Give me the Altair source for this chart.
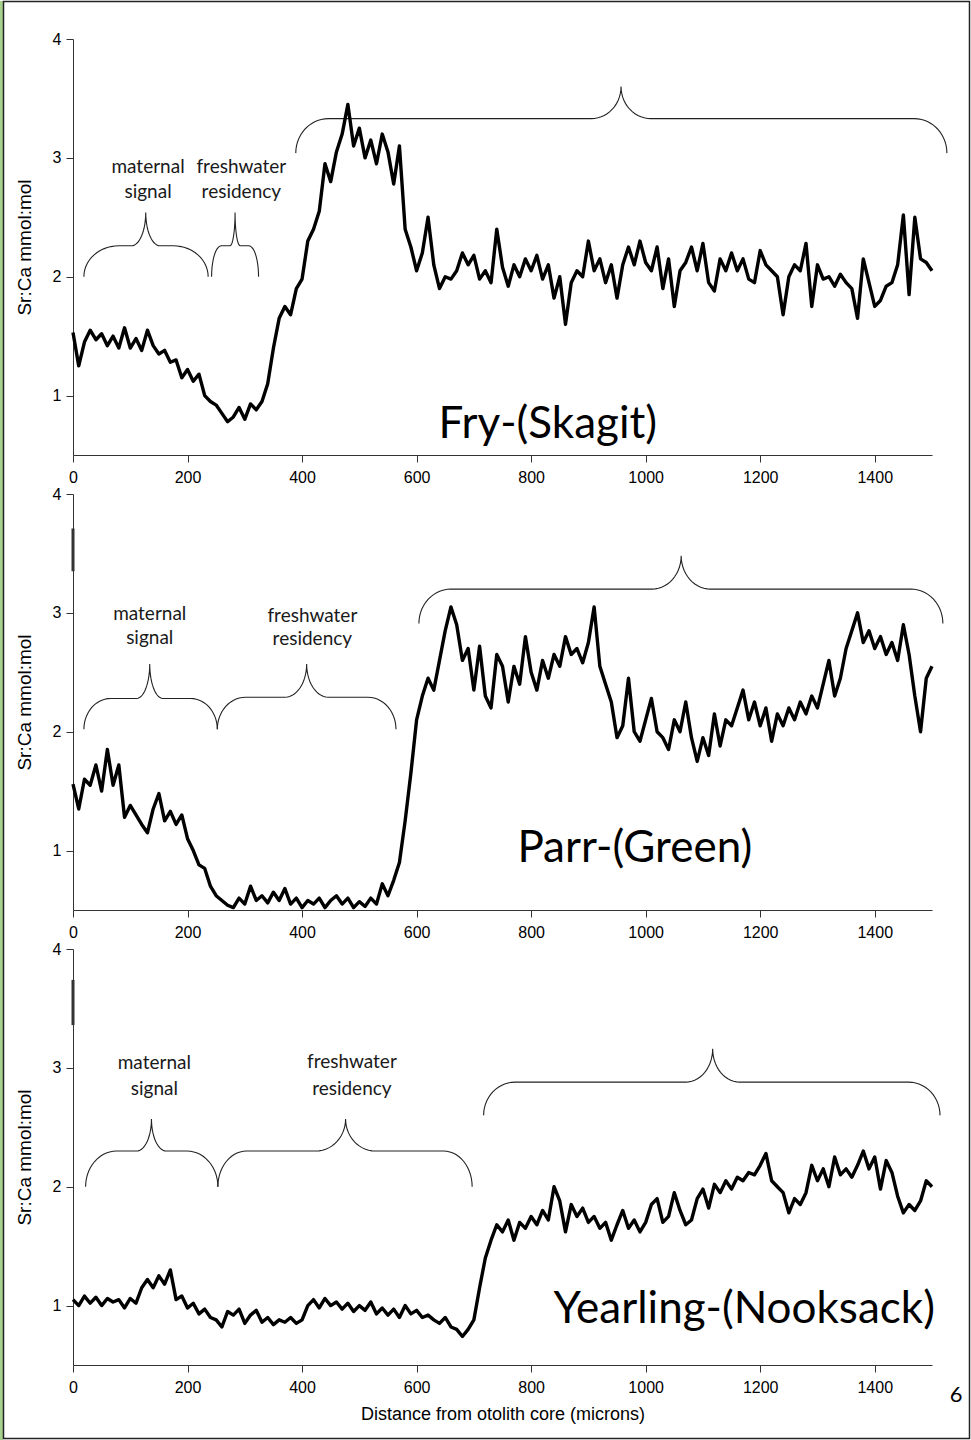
import math
import altair as alt
import pandas as pd

# ---------------- data ----------------
distance = list(range(0, 1501, 10))

fry_skagit = [
    1.53, 1.25, 1.45, 1.55, 1.47, 1.52, 1.42, 1.50, 1.40, 1.57,
    1.40, 1.48, 1.38, 1.55, 1.42, 1.35, 1.38, 1.28, 1.30, 1.15,
    1.22, 1.12, 1.18, 1.00, 0.95, 0.92, 0.85, 0.78, 0.82, 0.90,
    0.80, 0.93, 0.88, 0.95, 1.10, 1.40, 1.65, 1.75, 1.68, 1.90,
    1.98, 2.30, 2.40, 2.55, 2.95, 2.80, 3.05, 3.20, 3.45, 3.10,
    3.25, 3.00, 3.15, 2.95, 3.20, 3.05, 2.78, 3.10, 2.40, 2.25,
    2.05, 2.20, 2.50, 2.10, 1.90, 2.00, 1.98, 2.05, 2.20, 2.10,
    2.18, 1.98, 2.05, 1.95, 2.40, 2.08, 1.92, 2.10, 2.00, 2.15,
    2.05, 2.18, 1.98, 2.10, 1.82, 2.00, 1.60, 1.95, 2.05, 2.00,
    2.30, 2.05, 2.15, 1.95, 2.10, 1.82, 2.10, 2.25, 2.10, 2.30,
    2.12, 2.05, 2.25, 1.90, 2.15, 1.75, 2.05, 2.12, 2.25, 2.05,
    2.28, 1.95, 1.88, 2.15, 2.05, 2.20, 2.05, 2.15, 1.98, 1.95,
    2.22, 2.10, 2.05, 2.00, 1.68, 2.00, 2.10, 2.05, 2.28, 1.75,
    2.10, 1.98, 2.00, 1.92, 2.02, 1.95, 1.90, 1.65, 2.15, 1.95,
    1.75, 1.80, 1.92, 1.95, 2.10, 2.52, 1.85, 2.50, 2.15, 2.12,
    2.05,
]

parr_green = [
    1.56, 1.35, 1.60, 1.55, 1.72, 1.50, 1.85, 1.55, 1.72, 1.28,
    1.38, 1.30, 1.22, 1.15, 1.35, 1.48, 1.25, 1.33, 1.22, 1.30,
    1.10, 1.00, 0.88, 0.85, 0.70, 0.62, 0.58, 0.54, 0.52, 0.60,
    0.55, 0.70, 0.58, 0.62, 0.56, 0.65, 0.58, 0.68, 0.55, 0.60,
    0.52, 0.58, 0.55, 0.60, 0.52, 0.58, 0.62, 0.55, 0.60, 0.52,
    0.57, 0.53, 0.60, 0.55, 0.72, 0.62, 0.75, 0.90, 1.25, 1.65,
    2.10, 2.30, 2.45, 2.35, 2.60, 2.85, 3.05, 2.90, 2.60, 2.70,
    2.35, 2.72, 2.30, 2.20, 2.65, 2.55, 2.25, 2.55, 2.40, 2.80,
    2.50, 2.35, 2.60, 2.45, 2.65, 2.55, 2.80, 2.65, 2.70, 2.58,
    2.75, 3.05, 2.55, 2.40, 2.25, 1.95, 2.05, 2.45, 2.00, 1.92,
    2.10, 2.28, 2.00, 1.95, 1.85, 2.10, 2.00, 2.25, 1.95, 1.75,
    1.95, 1.80, 2.15, 1.88, 2.10, 2.05, 2.20, 2.35, 2.10, 2.25,
    2.05, 2.20, 1.92, 2.15, 2.05, 2.20, 2.10, 2.25, 2.15, 2.30,
    2.20, 2.40, 2.60, 2.30, 2.45, 2.70, 2.85, 3.00, 2.75, 2.85,
    2.70, 2.80, 2.65, 2.75, 2.60, 2.90, 2.65, 2.30, 2.00, 2.45,
    2.55,
]

yearling_nooksack = [
    1.05, 1.00, 1.08, 1.02, 1.07, 1.00, 1.06, 1.03, 1.05, 0.98,
    1.06, 1.02, 1.15, 1.22, 1.15, 1.25, 1.18, 1.30, 1.05, 1.08,
    0.98, 1.02, 0.93, 0.97, 0.90, 0.88, 0.82, 0.95, 0.92, 0.97,
    0.85, 0.92, 0.96, 0.86, 0.90, 0.84, 0.88, 0.86, 0.90, 0.85,
    0.88, 1.00, 1.05, 0.98, 1.06, 1.00, 1.03, 0.97, 1.02, 0.95,
    1.00, 0.96, 1.03, 0.93, 0.98, 0.92, 0.97, 0.90, 1.00, 0.93,
    0.96, 0.90, 0.92, 0.88, 0.85, 0.90, 0.82, 0.80, 0.74, 0.80,
    0.88, 1.15, 1.40, 1.55, 1.68, 1.62, 1.72, 1.55, 1.70, 1.65,
    1.75, 1.68, 1.80, 1.72, 2.00, 1.88, 1.62, 1.85, 1.75, 1.82,
    1.70, 1.75, 1.65, 1.70, 1.55, 1.68, 1.80, 1.65, 1.72, 1.62,
    1.70, 1.85, 1.90, 1.70, 1.75, 1.95, 1.80, 1.68, 1.72, 1.90,
    1.98, 1.82, 2.02, 1.95, 2.05, 1.98, 2.08, 2.05, 2.12, 2.10,
    2.18, 2.28, 2.05, 2.00, 1.95, 1.78, 1.90, 1.85, 1.95, 2.18,
    2.05, 2.15, 2.00, 2.25, 2.10, 2.15, 2.08, 2.18, 2.30, 2.15,
    2.25, 1.98, 2.22, 2.12, 1.92, 1.78, 1.85, 1.80, 1.88, 2.05,
    2.00,
]

series = [fry_skagit, parr_green, yearling_nooksack]
panel_labels = ["Fry-(Skagit)", "Parr-(Green)", "Yearling-(Nooksack)"]
x_ticks = [0, 200, 400, 600, 800, 1000, 1200, 1400]
y_ticks = [1, 2, 3, 4]
y_title = "Sr:Ca mmol:mol"
x_title = "Distance from otolith core (microns)"
page_number = "6"

# annotation text lines per panel: (line1, line2)
annotation_words = [("maternal", "signal"), ("freshwater", "residency")]

# ---------------- annotation geometry (data units) ----------------
label_anchor = [(829, 0.64), (981, 0.90), (1172, 0.85)]
annotation_pos = [
    [(131, 2.92, 2.71), (294, 2.92, 2.71)],
    [(134, 2.99, 2.79), (418, 2.97, 2.78)],
    [(142, 3.04, 2.82), (487, 3.05, 2.82)],
]
# braces: (x0, xmid, x1, y_end, y_flat, y_tip, a, b)
braces = [
    [(19, 127, 236, 2.00, 2.26, 2.54, 61, 25),
     (242, 283, 324, 2.00, 2.26, 2.54, 17, 9),
     (389, 957, 1526, 3.04, 3.33, 3.60, 57, 52)],
    [(19, 134, 252, 2.02, 2.28, 2.57, 47, 23),
     (252, 408, 564, 2.02, 2.29, 2.57, 49, 38),
     (604, 1062, 1519, 2.91, 3.20, 3.48, 56, 51)],
    [(22, 137, 253, 2.00, 2.30, 2.57, 54, 26),
     (253, 476, 697, 2.00, 2.30, 2.57, 50, 52),
     (717, 1117, 1514, 2.60, 2.88, 3.16, 55, 47)],
]
axis_smudge = [None, (3.35, 3.71), (3.36, 3.74)]


def brace_points(x0, xm, x1, yb, yh, yt, a, b, n=14):
    pts = []
    for k in range(n + 1):
        t = (math.pi / 2) * k / n
        pts.append((x0 + a - a * math.cos(t), yb + (yh - yb) * math.sin(t)))
    for k in range(n + 1):
        t = (math.pi / 2) * k / n
        pts.append((xm - b + b * math.sin(t), yh + (yt - yh) * (1 - math.cos(t))))
    for k in range(n, -1, -1):
        t = (math.pi / 2) * k / n
        pts.append((xm + b - b * math.sin(t), yh + (yt - yh) * (1 - math.cos(t))))
    for k in range(n, -1, -1):
        t = (math.pi / 2) * k / n
        pts.append((x1 - a + a * math.cos(t), yb + (yh - yb) * math.sin(t)))
    return pts


AXIS_FONT = "Liberation Sans"
LABEL_FONT = "Lato"
PANEL_W = 859
PANEL_H = 416


def make_panel(i):
    xs = alt.Scale(domain=[0, 1500], nice=False)
    ys = alt.Scale(domain=[0.5, 4], nice=False, zero=False)
    xaxis_kw = dict(values=x_ticks, format="d", labelFlush=False, tickSize=7, labelPadding=7,
                    labelFontSize=16, labelFont=AXIS_FONT, labelColor="black",
                    domainColor="#333333", tickColor="#333333", grid=False,
                    titleFont=AXIS_FONT, titleFontSize=18, titleFontWeight="normal",
                    titleColor="black", titlePadding=10)
    if i == 2:
        xaxis = alt.Axis(title=x_title, **xaxis_kw)
    else:
        xaxis = alt.Axis(title=None, **xaxis_kw)
    yaxis = alt.Axis(values=y_ticks, format="d", title=y_title, tickSize=7, labelPadding=5,
                     labelFontSize=16, labelFont=AXIS_FONT, labelColor="black",
                     domainColor="#333333", tickColor="#333333", grid=False,
                     titleFont=AXIS_FONT, titleFontSize=19, titleFontWeight="normal",
                     titleColor="black", titlePadding=18)
    X = alt.X("d:Q", scale=xs, axis=xaxis)
    Y = alt.Y("v:Q", scale=ys, axis=yaxis)

    df = pd.DataFrame({"d": distance, "v": series[i]})
    line = alt.Chart(df).mark_line(color="black", strokeWidth=3.4, strokeJoin="round").encode(x=X, y=Y)

    rows = []
    for bi, br in enumerate(braces[i]):
        for k, (px, py) in enumerate(brace_points(*br)):
            rows.append({"d": px, "v": py, "bid": bi, "idx": k})
    bdf = pd.DataFrame(rows)
    brace_layer = alt.Chart(bdf).mark_line(color="#222222", strokeWidth=1.1).encode(
        x=X, y=Y, detail="bid:N", order="idx:Q")

    trows = []
    for (w1, w2), (ax, ay1, ay2) in zip(annotation_words, annotation_pos[i]):
        trows.append({"d": ax, "v": ay1, "t": w1})
        trows.append({"d": ax, "v": ay2, "t": w2})
    tdf = pd.DataFrame(trows)
    text_layer = alt.Chart(tdf).mark_text(font=LABEL_FONT, fontSize=19, color="#1a1a1a",
                                          align="center", baseline="middle").encode(
        x=X, y=Y, text="t:N")

    lx, ly = label_anchor[i]
    ldf = pd.DataFrame({"d": [lx], "v": [ly], "t": [panel_labels[i]]})
    label_layer = alt.Chart(ldf).mark_text(font=LABEL_FONT, fontSize=44, color="black",
                                           align="center", baseline="alphabetic").encode(
        x=X, y=Y, text="t:N")

    layers = [brace_layer, text_layer, label_layer, line]

    if axis_smudge[i] is not None:
        s0, s1 = axis_smudge[i]
        sdf = pd.DataFrame({"d": [0], "v": [s0], "v2": [s1]})
        layers.append(alt.Chart(sdf).mark_rule(color="#333333", strokeWidth=3).encode(
            x=X, y=Y, y2="v2:Q"))

    one = pd.DataFrame({"k": [0]})
    if i == 0:
        layers.append(alt.Chart(one).mark_rect(color="#a9d18e").encode(
            x=alt.value(-73), x2=alt.value(-70), y=alt.value(-38), y2=alt.value(1402)))
        layers.append(alt.Chart(one).mark_rect(fillOpacity=0, stroke="#222222", strokeWidth=1.5).encode(
            x=alt.value(-69.5), x2=alt.value(896.5), y=alt.value(-37.5), y2=alt.value(1399.5)))
    if i == 2:
        layers.append(alt.Chart(pd.DataFrame({"t": [page_number]})).mark_text(
            font=LABEL_FONT, fontSize=22, color="black", align="center", baseline="middle").encode(
            x=alt.value(883), y=alt.value(446), text="t:N"))

    return alt.layer(*layers).properties(width=PANEL_W, height=PANEL_H)


chart = alt.vconcat(make_panel(0), make_panel(1), make_panel(2), spacing=39, bounds="flush").properties(
    padding=0, background="white"
).configure_view(strokeWidth=0)

chart.save("out.html", embed_options={"renderer": "svg", "actions": False})
